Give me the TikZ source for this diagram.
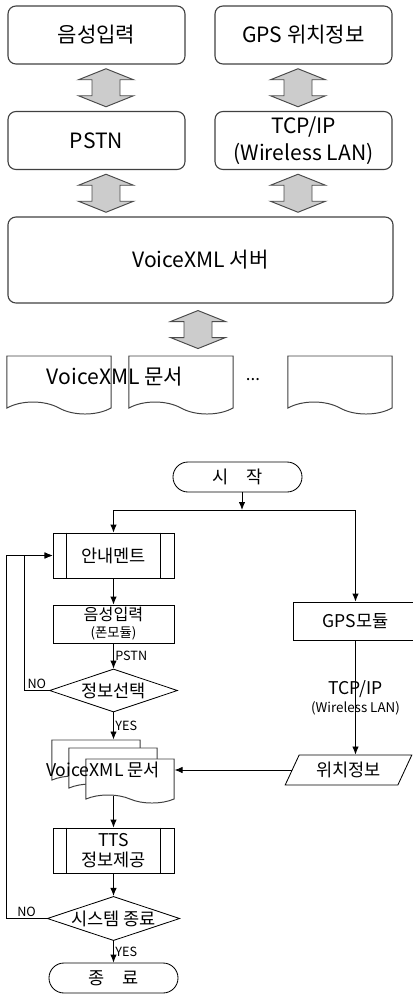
\documentclass[tikz,border=0pt]{standalone}
\usepackage{fontspec}
\setmainfont{Noto Sans CJK KR}
\usetikzlibrary{positioning,calc,shapes.geometric,shapes.symbols,arrows.meta}

\tikzset{
  topbox/.style={draw=black!75, line width=0.8pt, rounded corners=0.2cm, minimum width=4.425cm, minimum height=1.45cm, align=center, font=\fontsize{15}{19}\selectfont},
  blockfill/.style={draw=black!70, line width=0.7pt, fill=gray!40},
  dblarrow/.pic={\draw[blockfill] (0,-19) -- (27.5,-8) -- (14,-8) -- (14,8) -- (27.5,8) -- (0,19) -- (-27.5,8) -- (-14,8) -- (-14,-8) -- (-27.5,-8) -- cycle;},
  docbox/.style={tape, tape bend top=none, tape bend bottom=out and in, draw=black!75, fill=white, line width=0.7pt, inner sep=0pt},
  flow/.style={draw, line width=0.6pt, align=center, inner sep=1pt, font=\fontsize{12.5}{14}\selectfont},
  procbox/.style={flow, rectangle, minimum width=3.025cm},
  termbox/.style={flow, rounded corners=0.375cm, minimum width=3.225cm, minimum height=0.75cm},
  decision/.style={flow, diamond, aspect=3, inner sep=0pt, minimum height=1.075cm},
  iobox/.style={flow, trapezium, trapezium left angle=63, trapezium right angle=117, trapezium stretches=true, minimum width=3.175cm, minimum height=0.75cm},
  link/.style={line width=0.6pt, -{Latex[length=2mm,width=1.6mm]}},
  tag/.style={font=\fontsize{9}{10}\selectfont, inner sep=1pt},
}

\begin{document}
\begin{tikzpicture}[x=0.025cm, y=-0.025cm]
    \clip (0,0) rectangle (413,994);

    % System structure
    \node[topbox] (in1) at (96.5,35) {음성입력};
    \node[topbox] (gps1) at (303.5,35) {GPS 위치정보};
    \node[topbox] (pstn) at (96.5,140.5) {PSTN};
    \node[topbox] (tcp) at (303.5,140.5) {TCP/IP\\(Wireless LAN)};
    \node[topbox, minimum width=9.625cm, minimum height=2.15cm] (srv) at (200.5,260) {VoiceXML 서버};

    \foreach \n/\x in {doc1/59, doc2/181, doc3/340}
        \node[docbox, minimum width=2.6cm, minimum height=1.45cm, tape bend height=0.3cm] (\n) at (\x,379) {};
    \node[font=\fontsize{15}{17}\selectfont] (doctxt) at (115,377) {VoiceXML 문서};
    \node[font=\fontsize{12}{14}\selectfont] (dots) at (253,380) {...};

    \pic at ($(in1.south)!.5!(pstn.north)+(9.5,0)$) {dblarrow};
    \pic at ($(gps1.south)!.5!(tcp.north)+(-5.5,0)$) {dblarrow};
    \pic at ($(pstn.south)!.5!(pstn.south |- srv.north)+(9.5,0)$) {dblarrow};
    \pic at ($(tcp.south)!.5!(tcp.south |- srv.north)+(-5.5,0)$) {dblarrow};
    \pic at ($(srv.south)!.5!(srv.south |- doc2.north)+(-2.5,0)$) {dblarrow};

    % Flow chart
    \node[termbox] (start) at (237.5,477) {시\quad 작};
    \coordinate (split) at (242,510);
    \node[procbox, minimum height=1.125cm] (ann) at (113.5,555.5) {안내멘트};
    \node[procbox, minimum height=0.95cm] (voice) at (113.5,624) {{\fontsize{11.5}{12}\selectfont 음성입력}\\[-2pt]{\fontsize{9.5}{10}\selectfont (폰모듈)}};
    \node[decision, minimum width=3.2cm] (sel) at (113.5,690.5) {정보선택};
    \node[docbox, minimum width=2.2cm, minimum height=1.1cm, tape bend height=0.2cm] (bdoc) at (96,758) {};
    \node[docbox, minimum width=2.2cm, minimum height=1.1cm, tape bend height=0.2cm] (mdoc) at (113,766) {};
    \node[docbox, minimum width=2.2cm, minimum height=1.1cm, tape bend height=0.2cm] (fdoc) at (130,777) {};
    \node[flow, draw=none] (doctx) at (103,770) {VoiceXML 문서};
    \node[procbox, minimum height=1.125cm] (tts) at (113.5,850.5) {TTS\\정보제공};
    \node[decision, minimum width=3.225cm] (sysend) at (113.5,918.5) {시스템 종료};
    \node[termbox] (fin) at (113.5,978) {종\quad 료};
    \node[procbox, minimum height=0.95cm, minimum width=3.125cm] (gpsm) at (355.5,621) {GPS모듈};
    \node[iobox] (loc) at (348.5,770) {위치정보};

    \foreach \n in {ann,tts} {
        \draw[line width=0.6pt] ([xshift=0.35cm]\n.north west) -- ([xshift=0.35cm]\n.south west);
        \draw[line width=0.6pt] ([xshift=-0.35cm]\n.north east) -- ([xshift=-0.35cm]\n.south east);
    }

    \draw[link] (split |- start.south) -- (split);
    \draw[link] (split) -| (ann.north);
    \draw[link] (split) -| (gpsm.north);
    \draw[link] (ann) -- (voice);
    \draw[link] (voice) -- node[tag, right] {PSTN} (sel);
    \draw[link] (sel.south) -- node[tag, right] {YES} (sel.south |- bdoc.north);
    \draw[link] (sel.west) -- node[tag, above] {NO} ++(-24.5,0) |- (ann.west);
    \draw[link] (gpsm.south) -- node[align=center, font=\fontsize{12.5}{13}\selectfont] {TCP/IP\\{\fontsize{9.5}{10}\selectfont (Wireless LAN)}} (gpsm.south |- loc.north);
    \draw[link] (loc.west) -- (loc.west -| fdoc.east);
    \draw[link] (tts.north |- fdoc.south) -- (tts.north);
    \draw[link] (tts) -- (sysend);
    \draw[link] (sysend) -- node[tag, right] {YES} (fin);
    \draw[link] (sysend.west) -- node[tag, above] {NO} ++(-40.5,0) |- (ann.west);
\end{tikzpicture}
\end{document}
